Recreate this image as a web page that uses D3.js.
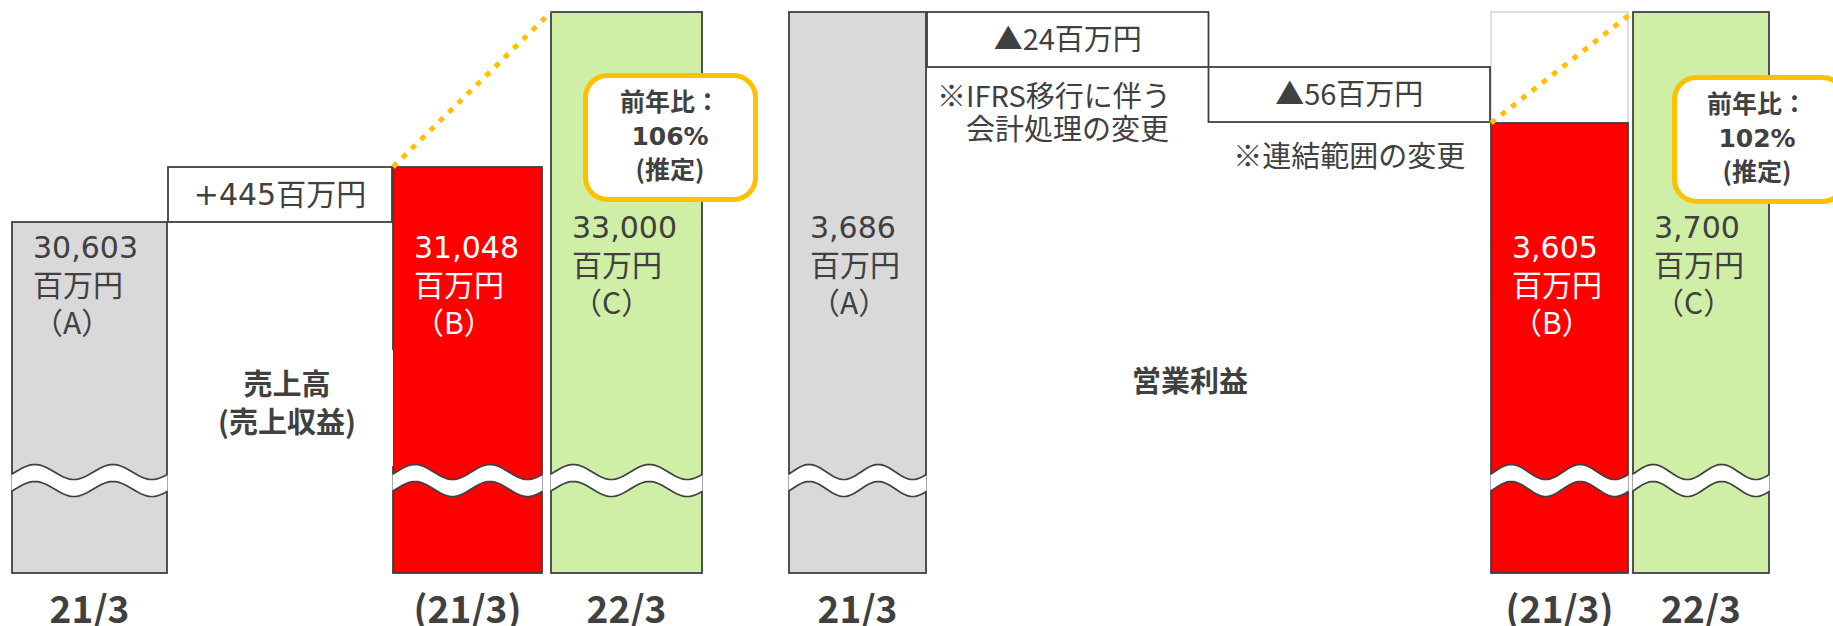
<!DOCTYPE html>
<html><head><meta charset="utf-8">
<script src="https://cdn.jsdelivr.net/npm/d3@7"></script>
<style>html,body{margin:0;padding:0;background:#fff;} svg{display:block;}</style>
</head><body>
<svg id="chart" width="1833" height="626"></svg>
<script>
// ---------------- data ----------------
const salesCategories = ["21/3", "(21/3)", "22/3"];
const salesValues = [30603, 31048, 33000];
const salesLetters = ["A", "B", "C"];
const salesDeltas = [445];
const salesDeltaLabels = ["+445百万円"];
const salesTitle = ["売上高", "(売上収益)"];
const salesRatio = ["前年比：", "106%", "(推定)"];

const opCategories = ["21/3", "(21/3)", "22/3"];
const opValues = [3686, 3605, 3700];
const opLetters = ["A", "B", "C"];
const opDeltas = [-24, -56];
const opDeltaLabels = ["▲24百万円", "▲56百万円"];
const opNotes = [["※IFRS移行に伴う", "　会計処理の変更"], ["※連結範囲の変更"]];
const opTitle = ["営業利益"];
const opRatio = ["前年比：", "102%", "(推定)"];
const unitLabel = "百万円";

// ---------------- style ----------------
const INK = "#404040", GOLD = "#FFC000";
const FILLS = ["#D9D9D9", "#FF0000", "#CFEEA6"];
const LABEL_INK = [INK, "#FFFFFF", INK];
const LATIN = "'DejaVu Sans', 'Noto Sans CJK JP', sans-serif";
const CJK = "'Noto Sans CJK JP', sans-serif";
const fmt = d3.format(",");

const svg = d3.select("#chart");
svg.append("rect").attr("width", 1833).attr("height", 626).attr("fill", "#fff");

// ---------------- scales (broken axes: piecewise linear) ----------------
const BASE = 573;
const salesY = d3.scaleLinear()
  .domain([0, salesValues[0], salesValues[0] + salesDeltas[0], salesValues[2]])
  .range([BASE, 222, 167, 12]);
const opY = d3.scaleLinear()
  .domain([0, opValues[1], opValues[0] + opDeltas[0], opValues[0]])
  .range([BASE, 123, 67, 12]).clamp(true);

const salesX = d3.scaleOrdinal().domain(salesCategories).range([12, 393, 551]);
const salesW = d3.scaleOrdinal().domain(salesCategories).range([155, 149, 151]);
const opX = d3.scaleOrdinal().domain(opCategories).range([789, 1491, 1633]);
const opW = d3.scaleOrdinal().domain(opCategories).range([137, 137, 136]);

function wavePts(x0, w, yc) {
  return d3.range(0, 61).map(i => {
    const t = i / 60;
    return [x0 + t * w, yc - 7.5 * Math.cos(2 * Math.PI * (t - 0.15) / 0.5)];
  });
}

// multi-line text as one <text> with tspans
function multiText(g, x, y, lines, dy, attrs, fontFor) {
  const t = g.append("text").attr("x", x).attr("y", y);
  Object.entries(attrs).forEach(([k, v]) => t.attr(k, v));
  lines.forEach((line, j) => {
    const s = t.append("tspan").attr("x", x).attr("y", y + j * dy).text(line);
    if (fontFor) s.attr("font-family", fontFor(j));
  });
  return t;
}

function drawPanel(p) {
  const g = svg.append("g");
  const cats = p.cats;
  if (p.diffBlock) {
    const c = cats[1];
    g.append("rect").attr("x", p.x(c)).attr("width", p.w(c))
      .attr("y", p.y(p.values[0])).attr("height", p.y(p.values[1]) - p.y(p.values[0]))
      .attr("fill", "#fff").attr("stroke", "#BFBFBF").attr("stroke-width", 1);
  }
  // bars
  g.selectAll("rect.bar").data(cats).join("rect").attr("class", "bar")
    .attr("x", c => p.x(c)).attr("width", c => p.w(c))
    .attr("y", (c, i) => p.y(p.values[i]))
    .attr("height", (c, i) => p.y(0) - p.y(p.values[i]))
    .attr("fill", (c, i) => FILLS[i]).attr("stroke", INK).attr("stroke-width", 1.8);
  // axis-break waves
  cats.forEach(c => {
    const up = wavePts(p.x(c) - 0.5, p.w(c) + 1, 472);
    const lo = wavePts(p.x(c) - 0.5, p.w(c) + 1, 489);
    g.append("path").attr("d", d3.line()(up.concat(lo.slice().reverse())) + "Z")
      .attr("fill", "#fff");
    [up, lo].forEach(pts => g.append("path").attr("d", d3.line()(pts))
      .attr("fill", "none").attr("stroke", INK).attr("stroke-width", 1.7));
  });
  // delta boxes
  const left = p.x(cats[0]) + p.w(cats[0]) + 1, right = p.x(cats[1]) - 1;
  const n = p.deltas.length, bw = (right - left) / n;
  let level = p.values[0];
  p.deltas.forEach((d, i) => {
    const y0 = p.y(level), y1 = p.y(level + d);
    const top = Math.min(y0, y1), h = Math.abs(y1 - y0);
    const bx = left + i * bw;
    g.append("rect").attr("x", bx).attr("y", top).attr("width", bw).attr("height", h)
      .attr("fill", "#fff").attr("stroke", INK).attr("stroke-width", 1.8);
    g.append("text").attr("x", bx + bw / 2).attr("y", top + h / 2 + 10)
      .attr("text-anchor", "middle").attr("font-family", p.deltaFont)
      .attr("font-size", p.deltaSize).attr("fill", INK).text(p.deltaLabels[i]);
    if (p.notes) {
      const anchor = p.noteAnchor[i];
      multiText(g, anchor === "middle" ? bx + bw / 2 : bx + 10, top + h + p.noteDy[i],
        p.notes[i], 33,
        { "text-anchor": anchor, "font-family": CJK, "font-size": 29, "fill": INK });
    }
    level += d;
  });
  // dotted connector from B top to C top
  g.append("line")
    .attr("x1", p.x(cats[1])).attr("y1", p.y(p.values[1]))
    .attr("x2", p.x(cats[2])).attr("y2", p.y(p.values[2]))
    .attr("stroke", GOLD).attr("stroke-width", 5).attr("stroke-dasharray", "5.5 7.5");
  // value labels inside bars
  cats.forEach((c, i) => {
    multiText(g, p.x(c) + 21, p.labelY[i],
      [fmt(p.values[i]), unitLabel, "（" + p.letters[i] + "）"], 38,
      { "fill": LABEL_INK[i], "font-size": 30 }, j => j === 0 ? LATIN : CJK);
  });
  // category labels
  cats.forEach(c => {
    g.append("text").attr("x", p.x(c) + p.w(c) / 2).attr("y", 623)
      .attr("text-anchor", "middle").attr("font-family", CJK).attr("font-weight", "bold")
      .attr("font-size", 37).attr("fill", INK).text(c);
  });
  // title box
  g.append("rect").attr("x", p.title.box[0]).attr("y", p.title.box[1])
    .attr("width", p.title.box[2]).attr("height", p.title.box[3]).attr("fill", "#fff");
  multiText(g, p.title.cx, p.title.y, p.title.lines, 38,
    { "text-anchor": "middle", "font-family": CJK, "font-weight": "bold", "font-size": 29, "fill": INK });
  // ratio callout
  const co = p.callout;
  g.append("rect").attr("x", co.x).attr("y", co.y).attr("width", 170).attr("height", 124)
    .attr("rx", 22).attr("ry", 22).attr("fill", "#fff").attr("stroke", GOLD).attr("stroke-width", 5);
  multiText(g, co.cx, co.y + 35, p.ratio, 34,
    { "text-anchor": "middle", "font-weight": "bold", "font-size": 25, "fill": INK },
    j => j === 1 ? LATIN : CJK);
}

drawPanel({
  cats: salesCategories, values: salesValues, letters: salesLetters,
  deltas: salesDeltas, deltaLabels: salesDeltaLabels, deltaFont: LATIN, deltaSize: 30,
  x: salesX, w: salesW, y: salesY, diffBlock: false,
  labelY: [258, 258, 238],
  title: { lines: salesTitle, cx: 287, y: 395, box: [178, 350, 215, 116] },
  callout: { x: 585.5, y: 75.5, cx: 670 }, ratio: salesRatio
});
drawPanel({
  cats: opCategories, values: opValues, letters: opLetters,
  deltas: opDeltas, deltaLabels: opDeltaLabels, deltaFont: CJK, deltaSize: 29,
  x: opX, w: opW, y: opY, diffBlock: true,
  notes: opNotes, noteAnchor: ["start", "middle"], noteDy: [40, 45],
  labelY: [238, 258, 238],
  title: { lines: opTitle, cx: 1190, y: 392, box: [1098, 349, 184, 73] },
  callout: { x: 1674.5, y: 77.5, cx: 1757 }, ratio: opRatio
});
</script>
</body></html>
